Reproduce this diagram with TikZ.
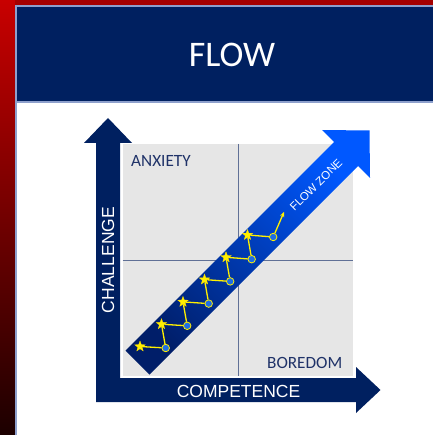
\documentclass[tikz,border=0pt]{standalone}
\usepackage{fontspec}
\setmainfont{Carlito}
\newfontfamily\arialfont{Liberation Sans}
\usetikzlibrary{shapes.geometric,arrows.meta}
\definecolor{navy}{RGB}{0,32,96}
\definecolor{frameline}{RGB}{142,160,204}
\definecolor{cellgray}{RGB}{230,230,230}
\definecolor{divider}{RGB}{96,112,150}
\definecolor{quadtext}{RGB}{31,50,104}
\definecolor{zonelow}{RGB}{0,30,105}
\definecolor{zonehigh}{RGB}{0,88,255}
\definecolor{dotblue}{RGB}{30,110,230}
\definecolor{gold}{RGB}{255,240,0}
\definecolor{redtop}{RGB}{200,0,0}
\definecolor{redlow}{RGB}{28,0,0}
\definecolor{redbar}{RGB}{165,0,0}
\tikzset{
	axislabel/.style={text=white,inner sep=0,font=\arialfont\fontsize{17.5}{18}\selectfont},
	quadlabel/.style={text=quadtext,inner sep=0,font=\fontsize{17.2}{18}\selectfont},
	peak/.style={shape=star,star points=5,star point ratio=2.4,minimum size=11pt,inner sep=0,fill=gold,draw=gold!85!orange,line width=0.3pt},
	trough/.style={circle,minimum size=7.5pt,inner sep=0,fill=dotblue,draw=gold,line width=0.8pt},
	zig/.style={gold,line width=1.3pt}
}
\begin{document}
\begin{tikzpicture}[x=1pt,y=-1pt]
	\useasboundingbox (0,0) rectangle (433,435);
	\fill[white] (0,0) rectangle (433,435);
	\shade[top color=redtop,bottom color=redlow] (0,0) rectangle (15,435);
	\fill[redbar] (15,0) rectangle (433,5);
	\fill[frameline] (15,5) rectangle (433,103.5);
	\fill[navy] (17,7) rectangle (433,101);
	\fill[frameline] (15,5) rectangle (17,435);
	\node[text=white,inner sep=0,font=\fontsize{36}{36}\selectfont] (title) at (232,55) {FLOW};
	\fill[cellgray] (122.5,144) rectangle (353,376);
	\draw[divider] (238,144) -- (238,376);
	\draw[divider] (122.5,260) -- (353,260);
	\fill[navy] (108,118) -- (132,143) -- (120,143) -- (120,378) -- (356,378) -- (356,367)
		-- (380.5,390) -- (356,413) -- (356,402) -- (96,402) -- (96,143) -- (84,143) -- cycle;
	\node[axislabel,rotate=90] (challenge) at (108,260) {CHALLENGE};
	\node[axislabel] (competence) at (238.5,391) {COMPETENCE};
	\node[quadlabel,anchor=west] (anxiety) at (131,160.5) {ANXIETY};
	\node[quadlabel,anchor=east] (boredom) at (342.5,363) {BOREDOM};
	\shade[top color=zonehigh,bottom color=zonelow,shading angle=-45]
		(125.5,350.5) -- (334,142) -- (322,130) -- (369.5,130.5) -- (370,178) -- (358,166) -- (149.5,374.5) -- cycle;
	\node[text=white,inner sep=0,rotate=45,font=\arialfont\fontsize{11.5}{12}\selectfont] (zone) at (316,185) {FLOW ZONE};
	\foreach \i in {0,...,5}{
		\node[peak] (s\i) at ({140+21.5*\i},{346.5-22.3*\i}) {};
		\node[trough] (c\i) at ({165.7+21.5*\i},{348-22.2*\i}) {};
	}
	\coordinate (climb) at (284,212);
	\foreach \i/\j in {0/1,1/2,2/3,3/4,4/5}
		\draw[zig] (s\i) -- (c\i) -- (s\j);
	\draw[zig] (s5) -- (c5);
	\draw[zig,-{Stealth[length=5pt,width=4.5pt]}] (c5) -- (climb);
\end{tikzpicture}
\end{document}
